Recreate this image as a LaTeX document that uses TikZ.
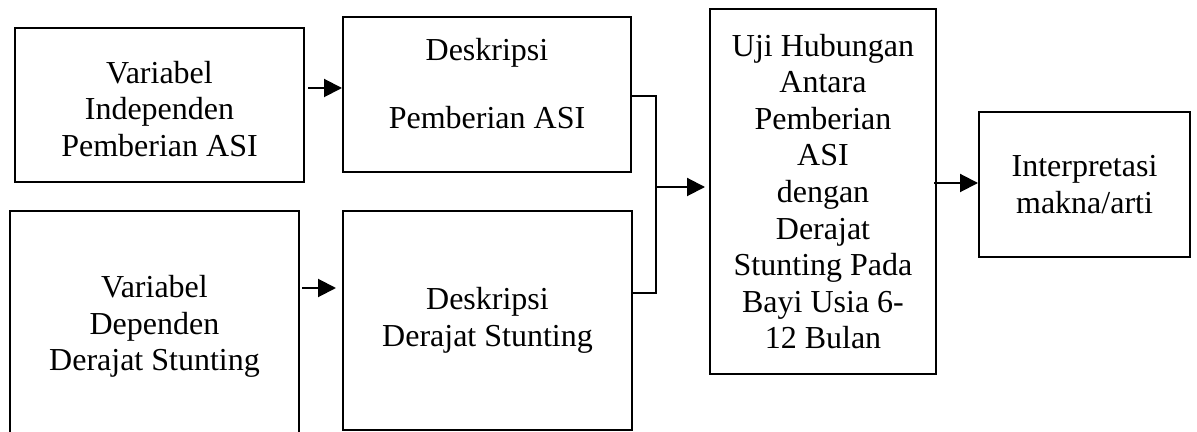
\documentclass[tikz,border=0pt]{standalone}
\usepackage{fontspec}
\setmainfont{Liberation Serif}
\usetikzlibrary{arrows.meta}
\begin{document}
\begin{tikzpicture}[x=0.5pt,y=-0.5pt,
  box/.style={draw, line width=1pt, rectangle, inner sep=0pt, align=center,
    font=\fontsize{16pt}{18.3pt}\selectfont},
  arr/.style={line width=1pt, -{Triangle[length=9pt,width=9pt]}},
  link/.style={line width=0.75pt}]
\path[use as bounding box, clip] (0,0) rectangle (1197,432);

% boxes
\node[box, minimum width=144.5pt, minimum height=77pt] (vind) at (159.5,105)
  {\rule{0pt}{15pt}Variabel\\Independen\\Pemberian ASI};
\node[box, minimum width=144pt, minimum height=77.5pt] (dasi) at (487,94.5)
  {Deskripsi\\[16pt]Pemberian ASI\rule[-11pt]{0pt}{0pt}};
\node[box, minimum width=144.5pt, minimum height=115.5pt] (vdep) at (154.5,326.5)
  {Variabel\\Dependen\\Derajat Stunting};
\node[box, minimum width=144.5pt, minimum height=109.5pt] (dstu) at (487.5,320.5)
  {Deskripsi\\Derajat Stunting};
\node[box, minimum width=113pt, minimum height=182.5pt] (uji) at (823,191.5)
  {Uji Hubungan\\Antara\\Pemberian\\ASI\\dengan\\Derajat\\Stunting Pada\\Bayi Usia 6-\\12 Bulan};
\node[box, minimum width=105.5pt, minimum height=72.5pt] (intp) at (1084.5,184.5)
  {Interpretasi\\makna/arti};

% routing points
\coordinate (r1) at (0,88);
\coordinate (r2) at (0,288);
\coordinate (ja) at (656,96);
\coordinate (jb) at (656,293);
\coordinate (jm) at (656,187);
\coordinate (r3) at (0,183);

% connectors
\draw[arr, shorten <=1.5pt] (vind.east |- r1) -- (dasi.west |- r1);
\draw[arr, shorten <=1pt, shorten >=3pt] (vdep.east |- r2) -- (dstu.west |- r2);
\draw[link] (dasi.east |- ja) -- (ja) -- (jb) -- (dstu.east |- jb);
\draw[arr, shorten >=2pt] (jm) -- (uji.west |- jm);
\draw[arr, shorten <=-1.5pt] (uji.east |- r3) -- (intp.west |- r3);
\end{tikzpicture}
\end{document}
